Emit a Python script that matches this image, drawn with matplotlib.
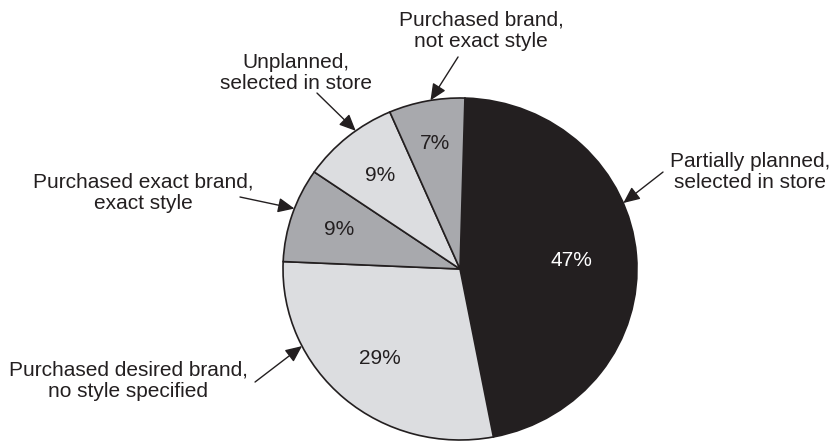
import numpy as np
import matplotlib
matplotlib.use("Agg")
import matplotlib.pyplot as plt

plt.rcParams['font.family'] = ['Liberation Sans', 'DejaVu Sans']

# share of shoppers by how the purchase was planned
categories = [
    "Partially planned,\nselected in store",
    "Purchased desired brand,\nno style specified",
    "Purchased exact brand,\nexact style",
    "Unplanned,\nselected in store",
    "Purchased brand,\nnot exact style",
]
shares = [47, 29, 9, 9, 7]
colors = ["#231f20", "#dcdde0", "#a8a9ad", "#dcdde0", "#a8a9ad"]
pct_colors = ["white", "#231f20", "#231f20", "#231f20", "#231f20"]

# (text x, text y, arrow tail x, arrow tail y, arrow angle on rim) in unit-pie coords
callouts = [
    (1.638, 0.567, 1.147, 0.567, 22.7),
    (-1.876, -0.655, -1.158, -0.661, 206.8),
    (-1.788, 0.447, -1.243, 0.421, 159.3),
    (-0.927, 1.145, -0.808, 1.029, 126.1),
    (0.119, 1.392, -0.011, 1.240, 99.6),
]
pct_radius = [0.63, 0.69, 0.72, 0.71, 0.75]

fig = plt.figure(figsize=(8.31, 4.42), dpi=100)
ax = fig.add_axes([0, 0, 1, 1])

wedges, _ = ax.pie(shares, colors=colors, startangle=88.4, counterclock=False,
                   wedgeprops=dict(edgecolor="#231f20", linewidth=1.2))

for w, v, r, c in zip(wedges, shares, pct_radius, pct_colors):
    mid = np.deg2rad((w.theta1 + w.theta2) / 2)
    ax.text(r * np.cos(mid), r * np.sin(mid), f"{v}%", ha="center", va="center",
            fontsize=15, color=c)

for name, (tx, ty, ax0, ay0, ang) in zip(categories, callouts):
    a = np.deg2rad(ang)
    ax.text(tx, ty, name, ha="center", va="center", fontsize=15,
            color="#231f20", linespacing=1.15)
    ax.annotate("", xy=(np.cos(a), np.sin(a)), xytext=(ax0, ay0),
                arrowprops=dict(arrowstyle="-|>,head_length=1.0,head_width=0.45",
                                color="#231f20", lw=1.0, shrinkA=0, shrinkB=0))

ax.set_aspect("auto")
ax.set_xlim(-460 / 177, 371 / 177)
ax.set_ylim(-173 / 171, 269 / 171)
ax.axis("off")

fig.savefig("out.png", dpi=100)
